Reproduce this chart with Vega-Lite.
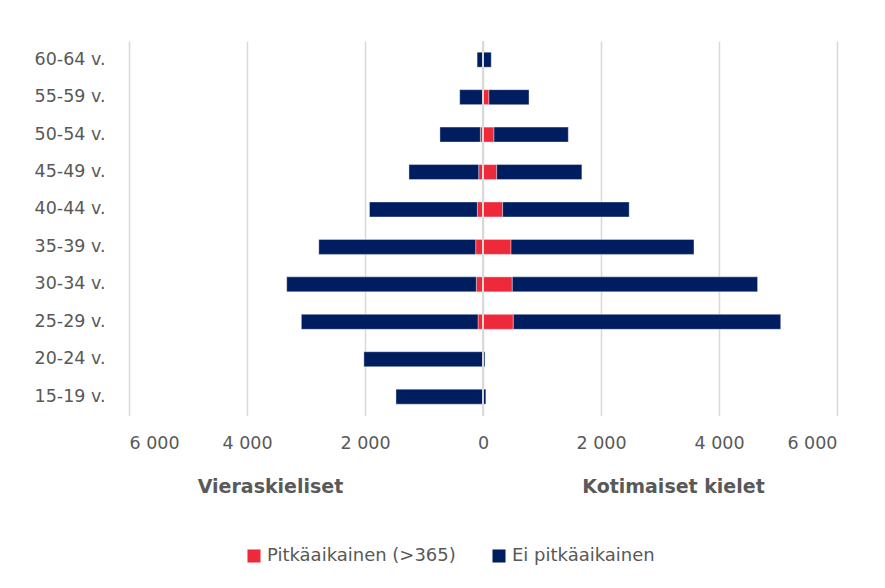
{
  "$schema": "https://vega.github.io/schema/vega-lite/v6.json",
  "width": 708,
  "height": 374.4,
  "autosize": {"type": "none"},
  "padding": {"left": 129, "top": 41, "right": 48, "bottom": 173},
  "background": "white",
  "config": {
    "font": "DejaVu Sans",
    "view": {"stroke": null},
    "axis": {"labelColor": "#595959", "titleColor": "#595959"},
    "legend": {"labelColor": "#595959"}
  },
  "datasets": {
    "bars": [
      {"age": "60-64 v.", "side": "Vieraskieliset", "type": "Ei pitkäaikainen", "ord": 1, "value": -100},
      {"age": "55-59 v.", "side": "Vieraskieliset", "type": "Ei pitkäaikainen", "ord": 1, "value": -395},
      {"age": "50-54 v.", "side": "Vieraskieliset", "type": "Pitkäaikainen (>365)", "ord": 0, "value": -45},
      {"age": "50-54 v.", "side": "Vieraskieliset", "type": "Ei pitkäaikainen", "ord": 1, "value": -685},
      {"age": "45-49 v.", "side": "Vieraskieliset", "type": "Pitkäaikainen (>365)", "ord": 0, "value": -73},
      {"age": "45-49 v.", "side": "Vieraskieliset", "type": "Ei pitkäaikainen", "ord": 1, "value": -1182},
      {"age": "40-44 v.", "side": "Vieraskieliset", "type": "Pitkäaikainen (>365)", "ord": 0, "value": -96},
      {"age": "40-44 v.", "side": "Vieraskieliset", "type": "Ei pitkäaikainen", "ord": 1, "value": -1828},
      {"age": "35-39 v.", "side": "Vieraskieliset", "type": "Pitkäaikainen (>365)", "ord": 0, "value": -124},
      {"age": "35-39 v.", "side": "Vieraskieliset", "type": "Ei pitkäaikainen", "ord": 1, "value": -2659},
      {"age": "30-34 v.", "side": "Vieraskieliset", "type": "Pitkäaikainen (>365)", "ord": 0, "value": -113},
      {"age": "30-34 v.", "side": "Vieraskieliset", "type": "Ei pitkäaikainen", "ord": 1, "value": -3214},
      {"age": "25-29 v.", "side": "Vieraskieliset", "type": "Pitkäaikainen (>365)", "ord": 0, "value": -85},
      {"age": "25-29 v.", "side": "Vieraskieliset", "type": "Ei pitkäaikainen", "ord": 1, "value": -2994},
      {"age": "20-24 v.", "side": "Vieraskieliset", "type": "Ei pitkäaikainen", "ord": 1, "value": -2019},
      {"age": "15-19 v.", "side": "Vieraskieliset", "type": "Ei pitkäaikainen", "ord": 1, "value": -1475},
      {"age": "60-64 v.", "side": "Kotimaiset kielet", "type": "Ei pitkäaikainen", "ord": 1, "value": 140},
      {"age": "55-59 v.", "side": "Kotimaiset kielet", "type": "Pitkäaikainen (>365)", "ord": 0, "value": 100},
      {"age": "55-59 v.", "side": "Kotimaiset kielet", "type": "Ei pitkäaikainen", "ord": 1, "value": 680},
      {"age": "50-54 v.", "side": "Kotimaiset kielet", "type": "Pitkäaikainen (>365)", "ord": 0, "value": 186},
      {"age": "50-54 v.", "side": "Kotimaiset kielet", "type": "Ei pitkäaikainen", "ord": 1, "value": 1260},
      {"age": "45-49 v.", "side": "Kotimaiset kielet", "type": "Pitkäaikainen (>365)", "ord": 0, "value": 232},
      {"age": "45-49 v.", "side": "Kotimaiset kielet", "type": "Ei pitkäaikainen", "ord": 1, "value": 1444},
      {"age": "40-44 v.", "side": "Kotimaiset kielet", "type": "Pitkäaikainen (>365)", "ord": 0, "value": 333},
      {"age": "40-44 v.", "side": "Kotimaiset kielet", "type": "Ei pitkäaikainen", "ord": 1, "value": 2145},
      {"age": "35-39 v.", "side": "Kotimaiset kielet", "type": "Pitkäaikainen (>365)", "ord": 0, "value": 475},
      {"age": "35-39 v.", "side": "Kotimaiset kielet", "type": "Ei pitkäaikainen", "ord": 1, "value": 3101},
      {"age": "30-34 v.", "side": "Kotimaiset kielet", "type": "Pitkäaikainen (>365)", "ord": 0, "value": 497},
      {"age": "30-34 v.", "side": "Kotimaiset kielet", "type": "Ei pitkäaikainen", "ord": 1, "value": 4157},
      {"age": "25-29 v.", "side": "Kotimaiset kielet", "type": "Pitkäaikainen (>365)", "ord": 0, "value": 514},
      {"age": "25-29 v.", "side": "Kotimaiset kielet", "type": "Ei pitkäaikainen", "ord": 1, "value": 4532},
      {"age": "20-24 v.", "side": "Kotimaiset kielet", "type": "Ei pitkäaikainen", "ord": 1, "value": 32},
      {"age": "15-19 v.", "side": "Kotimaiset kielet", "type": "Ei pitkäaikainen", "ord": 1, "value": 48}
    ],
    "zero": [{"zero": 0}]
  },
  "resolve": {"axis": {"x": "independent"}},
  "layer": [
    {
      "data": {"name": "bars"},
      "mark": {"type": "bar", "stroke": "white", "strokeWidth": 0.75, "strokeOpacity": 0.5},
      "encoding": {
        "y": {
          "field": "age",
          "type": "nominal",
          "sort": ["60-64 v.", "55-59 v.", "50-54 v.", "45-49 v.", "40-44 v.", "35-39 v.", "30-34 v.", "25-29 v.", "20-24 v.", "15-19 v."],
          "scale": {"paddingInner": 0.6, "paddingOuter": 0.3},
          "axis": {"title": null, "ticks": false, "tickSize": 0, "domain": false, "labelPadding": 24, "labelFontSize": 17.5, "labelAlign": "right"}
        },
        "x": {
          "field": "value",
          "type": "quantitative",
          "stack": "zero",
          "scale": {"domain": [-6000, 6000], "nice": false},
          "axis": {
            "orient": "bottom",
            "values": [-6000, -4000, -2000, 0, 2000, 4000, 6000],
            "labelExpr": "replace(format(abs(datum.value), ',d'), ',', ' ')",
            "labelFontSize": 17.5,
            "labelPadding": 19,
            "ticks": false,
            "tickSize": 0,
            "domain": false,
            "grid": true,
            "gridColor": "#d9d9d9",
            "gridWidth": 1.5,
            "title": "Vieraskieliset",
            "titleFontSize": 19,
            "titleFontWeight": "bold",
            "titleX": 141,
            "titleY": 77,
            "titleAlign": "center",
            "titleBaseline": "alphabetic"
          }
        },
        "color": {
          "field": "type",
          "type": "nominal",
          "scale": {"domain": ["Pitkäaikainen (>365)", "Ei pitkäaikainen"], "range": ["#EE2A3A", "#001E5F"]},
          "legend": {
            "title": null,
            "orient": "none",
            "direction": "horizontal",
            "legendX": 116,
            "legendY": 506,
            "symbolType": "square",
            "symbolSize": 170,
            "symbolStrokeWidth": 0,
            "labelFontSize": 18,
            "labelLimit": 400,
            "labelOffset": 4,
            "columnPadding": 34
          }
        },
        "order": {"field": "ord", "type": "quantitative"}
      }
    },
    {
      "data": {"name": "zero"},
      "mark": {"type": "rule", "color": "#d9d9d9", "strokeWidth": 2},
      "encoding": {
        "x": {
          "field": "zero",
          "type": "quantitative",
          "scale": {"domain": [-6000, 6000], "nice": false},
          "axis": {
            "orient": "bottom",
            "labels": false,
            "ticks": false,
            "domain": false,
            "grid": false,
            "title": "Kotimaiset kielet",
            "titleFontSize": 19,
            "titleFontWeight": "bold",
            "titleX": 544,
            "titleY": 77,
            "titleAlign": "center",
            "titleBaseline": "alphabetic"
          }
        }
      }
    }
  ]
}
